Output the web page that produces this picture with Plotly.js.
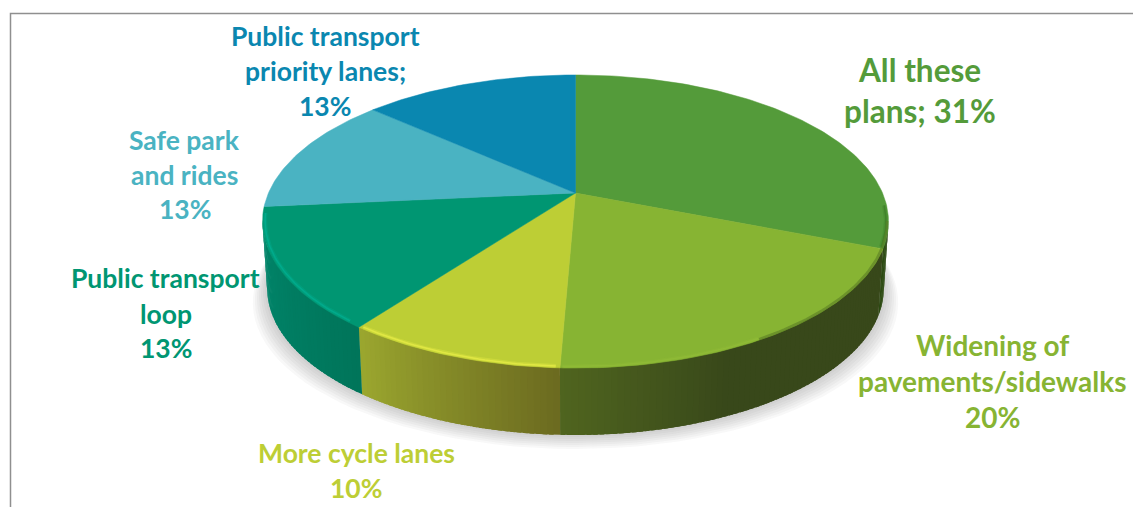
<!DOCTYPE html>
<html>
<head>
<meta charset="utf-8">
<script src="https://cdn.plot.ly/plotly-3.0.1.min.js"></script>
<style>html,body{margin:0;padding:0;background:#fff;overflow:hidden}</style>
</head>
<body>
<div id="chart" style="width:1133px;height:507px"></div>
<script>
// Data: slice shares, clockwise from 12 o'clock
const categories = ["All these plans","Widening of pavements/sidewalks","More cycle lanes","Public transport loop","Safe park and rides","Public transport priority lanes"];
const shares = [31, 19.65, 9.5, 13.35, 13.1, 13.4];

// Label lines as printed
const labelLines = [
  ["All these","plans; 31%"],
  ["Widening of","pavements/sidewalks","20%"],
  ["More cycle lanes","10%"],
  ["Public transport","loop","13%"],
  ["Safe park","and rides","13%"],
  ["Public transport","priority lanes;","13%"]
];

// Styles
const topColors  = ["#549B3A","#87B433","#BDCE35","#009672","#4AB3C2","#0A87B0"];
const wallFrom   = ["#2c4a12","#38481a","#6c6b20","#00755a","#3f9aa8","#0a6f90"]; // at the right end of the slice
const wallTo     = ["#2c4a12","#50651f","#9ca82f","#00896e","#3f9aa8","#0a6f90"]; // at the left end of the slice
const bevelColors= ["#3f8029","#8fbb37","#e4ea45","#00ad8e","#58c4d4","#0a87b0"];
const bevelRange = [[95,112],[150,183],[183,219],[219,262],[262,262],[262,262]];
const rimShade   = {color:"#5a7d24", from:101, to:150};
const labelPlacement = [
  {x:919.5,y:[70,111],size:31.5},
  {x:992.5,y:[345,381,417],size:28},
  {x:356,y:[453,488],size:26.5},
  {x:165.5,y:[278,314,348],size:26.5},
  {x:184.5,y:[140,175,209],size:26.5},
  {x:325,y:[36,71,106],size:26.5}
];

// View geometry: a tilted disc seen in perspective
const view = {cx:575.5, cy:193, A:307, B:141, k:0.1945, depth:67, baseScale:0.985};

function project(thetaDeg, r){
  const t = thetaDeg*Math.PI/180;
  const u = r*Math.sin(t), v = r*Math.cos(t);
  const w = 1 + view.k*v;
  return [view.cx + view.A*u/w, view.cy - view.B*v/w];
}
function base(thetaDeg, off){
  const p = project(thetaDeg,1);
  return [view.cx + (p[0]-view.cx)*view.baseScale*(off?1+off/300:1), p[1]+view.depth+(off||0)];
}
function hex(c){return [1,3,5].map(i=>parseInt(c.substr(i,2),16));}
function mix(a,b,f){const A=hex(a),B=hex(b);return "rgb("+A.map((v,i)=>Math.round(v+(B[i]-v)*f)).join(",")+")";}

const total = shares.reduce((a,b)=>a+b,0);
const spans = [];
let acc = 0;
shares.forEach(s=>{const a=acc/total*360; acc+=s; spans.push([a,acc/total*360]);});

const traces = [];
const quiet = {hoverinfo:"skip",showlegend:false,type:"scatter",mode:"lines"};

// soft contact shadow
[14,12,10,8,6,4,2].forEach(off=>{
  const xs=[],ys=[];
  for(let th=0;th<=360;th+=3){const p=base(th,off);xs.push(p[0]);ys.push(p[1]);}
  traces.push(Object.assign({},quiet,{x:xs,y:ys,fill:"toself",fillcolor:"rgba(60,60,60,0.035)",line:{width:0}}));
});

// side wall, drawn as narrow shaded strips that overlap the next one to hide seams
const STEP = 1;
spans.forEach((sp,i)=>{
  const lo=Math.max(sp[0],101), hi=Math.min(sp[1],259);
  if(hi<=lo) return;
  for(let th=lo;th<hi;th+=STEP){
    const e=Math.min(th+STEP+0.7,hi);
    const a=project(th,1),b=project(e,1),c=base(e),d=base(th);
    let f=(th-sp[0])/(sp[1]-sp[0]);
    if(i===1){ f=Math.max(0,(f-0.62)/0.38); }
    const col=mix(wallFrom[i],wallTo[i],f);
    traces.push(Object.assign({},quiet,{
      x:[a[0],b[0],c[0],d[0],a[0]],y:[a[1]-1,b[1]-1,c[1],d[1],a[1]-1],
      fill:"toself",fillcolor:col,line:{width:0}
    }));
  }
});

// top face
spans.forEach((sp,i)=>{
  const xs=[view.cx],ys=[view.cy];
  for(let th=sp[0];th<sp[1];th+=1){const p=project(th,1);xs.push(p[0]);ys.push(p[1]);}
  const pe=project(sp[1],1);xs.push(pe[0],view.cx);ys.push(pe[1],view.cy);
  traces.push(Object.assign({},quiet,{
    name:categories[i],x:xs,y:ys,fill:"toself",fillcolor:topColors[i],line:{color:topColors[i],width:0.5}
  }));
});

// bevel along the rim
spans.forEach((sp,i)=>{
  const lo=Math.max(sp[0],bevelRange[i][0]), hi=Math.min(sp[1],bevelRange[i][1]);
  if(hi<=lo) return;
  const xs=[],ys=[];
  for(let th=lo;th<=hi;th+=1){const p=project(th,0.992);xs.push(p[0]);ys.push(p[1]);}
  traces.push(Object.assign({},quiet,{x:xs,y:ys,opacity:0.35,line:{color:bevelColors[i],width:4}}));
  traces.push(Object.assign({},quiet,{x:xs,y:ys,opacity:0.85,line:{color:bevelColors[i],width:1.5}}));
});
(function(){
  const xs=[],ys=[];
  for(let th=rimShade.from;th<=rimShade.to;th+=1){const p=project(th,0.996);xs.push(p[0]);ys.push(p[1]);}
  traces.push(Object.assign({},quiet,{x:xs,y:ys,opacity:0.6,line:{color:rimShade.color,width:2.5}}));
})();

// labels
const annotations=[];
labelLines.forEach((lines,i)=>{
  const pl=labelPlacement[i];
  lines.forEach((t,j)=>annotations.push({
    x:pl.x,y:pl.y[j],xref:"x",yref:"y",text:"<b>"+t+"</b>",showarrow:false,
    xanchor:"center",yanchor:"middle",
    font:{family:"Lato, 'Open Sans', sans-serif",size:pl.size,color:topColors[i]}
  }));
});

const layout={
  width:1133,height:507,margin:{l:0,r:0,t:0,b:0},
  paper_bgcolor:"#fff",plot_bgcolor:"#fff",showlegend:false,hovermode:false,
  xaxis:{range:[0,1133],visible:false,fixedrange:true},
  yaxis:{range:[507,0],visible:false,fixedrange:true},
  annotations:annotations,
  shapes:[{type:"path",xref:"x",yref:"y",path:"M 10.5 507 L 10.5 13.5 L 1133 13.5",line:{color:"#8f8f8f",width:1.5}}]
};
Plotly.newPlot("chart",traces,layout,{displayModeBar:false,staticPlot:true});
</script>
</body>
</html>
